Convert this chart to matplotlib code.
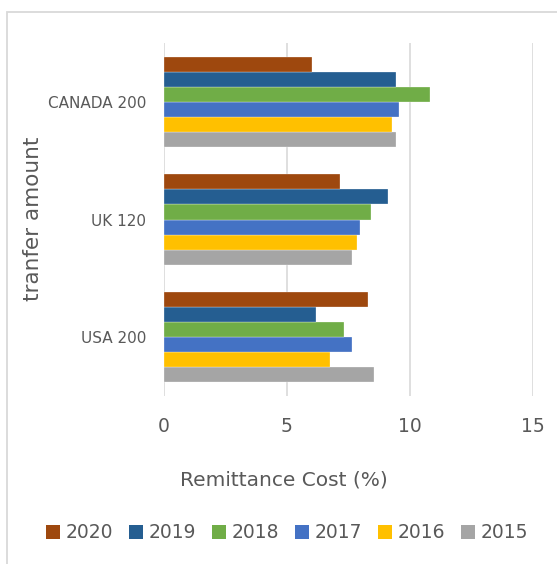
import matplotlib.pyplot as plt
import numpy as np
from matplotlib.patches import Patch, Rectangle

categories = ['USA 200', 'UK 120', 'CANADA 200']
years = ['2015', '2016', '2017', '2018', '2019', '2020']
values = {
    '2015': [8.53, 7.66, 9.44],
    '2016': [6.76, 7.86, 9.27],
    '2017': [7.66, 7.95, 9.57],
    '2018': [7.32, 8.41, 10.81],
    '2019': [6.18, 9.09, 9.42],
    '2020': [8.31, 7.17, 6.0],
}
colors = {
    '2015': '#A5A5A5',
    '2016': '#FFC000',
    '2017': '#4472C4',
    '2018': '#70AD47',
    '2019': '#255E91',
    '2020': '#9E480E',
}

text_col = '#595959'
grid_col = '#D9D9D9'

fig = plt.figure(figsize=(5.57, 5.64), dpi=100)
ax = fig.add_axes([164/557, 1 - 396/564, (533-164)/557, (396-43)/564])

y = np.arange(len(categories))
h = 1 / (6 + 1.82)
for i, yr in enumerate(years):
    off = (i - 2.5) * h
    ax.barh(y + off, values[yr], height=h, color=colors[yr],
            edgecolor='white', linewidth=0.2, zorder=3)

ax.set_xlim(0, 15)
ax.set_ylim(-0.5, 2.5)
ax.set_xticks([0, 5, 10, 15])
ax.set_yticks(y)
ax.set_yticklabels(categories)
for s in ax.spines.values():
    s.set_visible(False)
ax.xaxis.grid(True, color=grid_col, linewidth=1.2, zorder=0)
ax.tick_params(axis='x', length=0, pad=15, labelsize=13.5, labelcolor=text_col)
ax.tick_params(axis='y', length=0, pad=13, labelsize=11, labelcolor=text_col)

fig.text(284/557, 1 - 480/564, 'Remittance Cost (%)', fontsize=14.5,
         color=text_col, ha='center', va='center')
fig.text(33/557, 1 - 219/564, 'tranfer amount', rotation=90, fontsize=15.5,
         color=text_col, ha='center', va='center')

handles = [Patch(facecolor=colors[yr], edgecolor='none') for yr in years[::-1]]
fig.legend(handles, years[::-1], loc='center', bbox_to_anchor=(287/557, 1 - 533/564),
           ncol=6, frameon=False, fontsize=13.5, labelcolor=text_col,
           handlelength=0.75, handleheight=0.75, handletextpad=0.3, columnspacing=0.85)

# chart outer border
fig.patches.append(Rectangle((7/557, -0.05), 1.1, 1 - 12/564 + 0.05,
                             transform=fig.transFigure, fill=False,
                             edgecolor=grid_col, linewidth=1.3))

fig.savefig('out.png', dpi=100)
